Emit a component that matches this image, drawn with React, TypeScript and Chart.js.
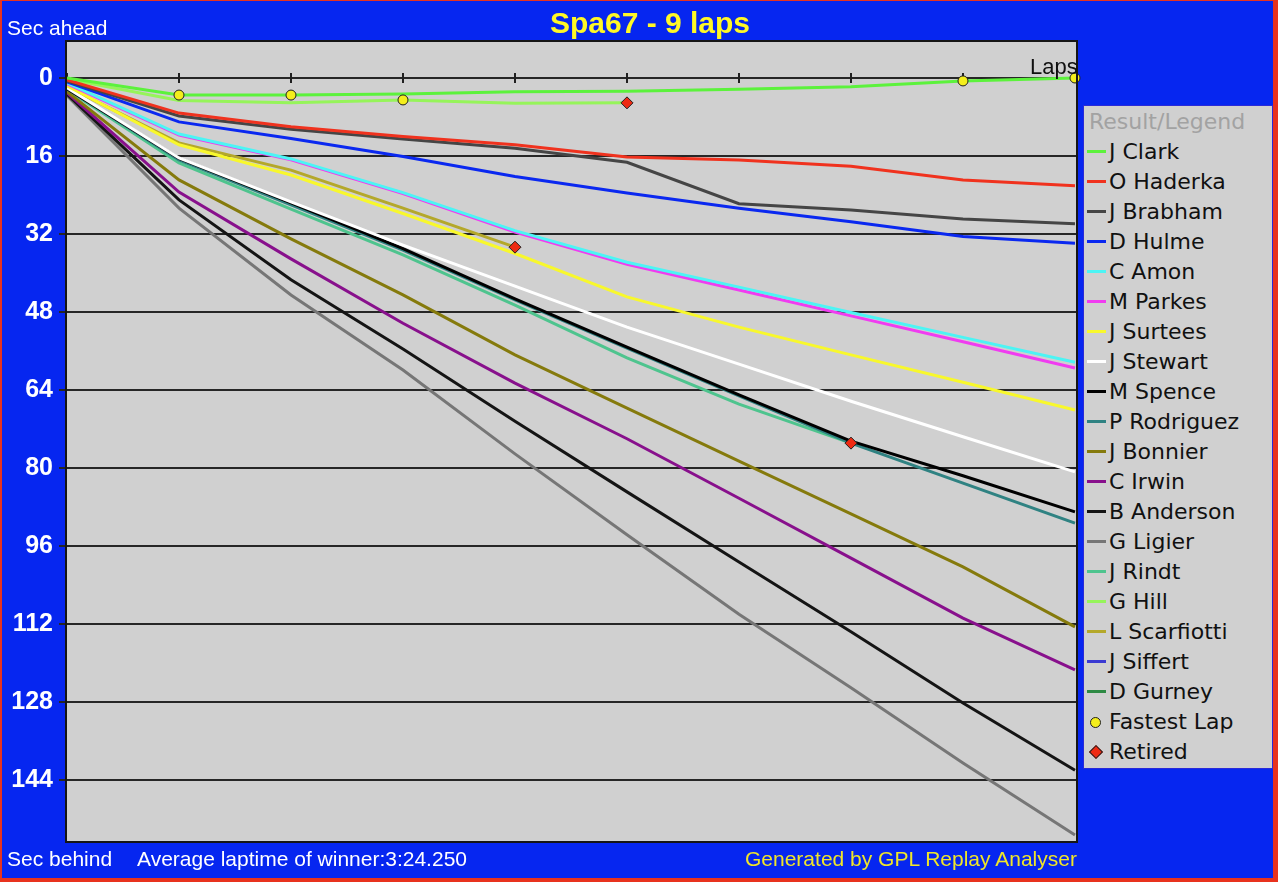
import React, { useEffect, useRef } from "react";
import { Chart, registerables } from "chart.js";

Chart.register(...registerables);

// ---------- data ----------
const laps = [0, 1, 2, 3, 4, 5, 6, 7, 8, 9];
const yTickValues = [0, 16, 32, 48, 64, 80, 96, 112, 128, 144];

const drivers = [
  "J Clark", "O Haderka", "J Brabham", "D Hulme", "C Amon", "M Parkes",
  "J Surtees", "J Stewart", "M Spence", "P Rodriguez", "J Bonnier", "C Irwin",
  "B Anderson", "G Ligier", "J Rindt", "G Hill", "L Scarfiotti", "J Siffert", "D Gurney",
];
const driverColors = [
  "#5cf23c", "#f0321e", "#454545", "#0a28f0", "#4cf4f4", "#f03cf0",
  "#f8f82c", "#ffffff", "#000000", "#2f8282", "#857a0c", "#88108c",
  "#141414", "#767676", "#4ec48e", "#96f45a", "#b4a82a", "#3a3ad2", "#2e8a44",
];

// seconds behind the winner's average pace, per lap
const clark = [0, 3.5, 3.5, 3.3, 2.8, 2.7, 2.3, 1.8, 0.6, 0];
const haderka = [0.4, 7.2, 10.0, 12.0, 13.7, 16.2, 16.8, 18.1, 20.9, 22.1];
const brabham = [0.6, 7.8, 10.5, 12.5, 14.4, 17.3, 25.8, 27.1, 28.9, 29.9];
const hulme = [0.8, 9.0, 12.4, 16.1, 20.2, 23.6, 26.7, 29.5, 32.5, 33.9];
const amon = [1.0, 11.5, 16.6, 23.5, 31.3, 37.8, 42.9, 48.1, 53.2, 58.3];
const parkes = [1.2, 11.7, 16.8, 23.7, 31.6, 38.2, 43.5, 48.8, 54.1, 59.5];
const surtees = [1.6, 13.7, 19.9, 27.8, 36.0, 44.9, 51.1, 56.8, 62.4, 68.1];
const stewart = [2.0, 16.4, 25.4, 34.3, 42.7, 51.1, 58.7, 66.3, 73.6, 80.8];
const spence = [2.2, 16.5, 25.6, 35.0, 45.3, 55.2, 65.0, 74.5, 81.6, 89.0];
const rodriguez = [2.2, 16.8, 26.0, 35.3, 45.5, 55.4, 65.2, 74.9, 83.1, 91.3];
const bonnier = [2.8, 20.9, 33.0, 44.5, 56.8, 67.7, 78.6, 89.4, 100.3, 112.6];
const irwin = [3.0, 23.4, 37.1, 50.3, 62.6, 74.0, 86.2, 98.5, 110.8, 121.4];
const anderson = [3.3, 25.0, 41.4, 55.6, 70.4, 84.9, 99.3, 113.6, 128.2, 142.0];
const ligier = [3.6, 26.7, 44.5, 59.9, 77.1, 93.7, 110.0, 125.1, 140.5, 155.3];
const rindt = [2.4, 17.4, 26.9, 36.3, 46.6, 57.4, 66.9, 74.9];
const hill = [0.2, 4.6, 5.1, 4.5, 5.2, 5.1];
const scarfiotti = [1.8, 13.3, 18.9, 26.7, 34.7];
const siffert: number[] = [];
const gurney: number[] = [];

const series = [
  clark, haderka, brabham, hulme, amon, parkes, surtees, stewart, spence,
  rodriguez, bonnier, irwin, anderson, ligier, rindt, hill, scarfiotti, siffert, gurney,
];

const fastestLapLaps = [1, 2, 3, 8, 9];
const fastestLapSecs = [3.5, 3.5, 4.5, 0.6, 0];
const retiredLaps = [4, 5, 7];
const retiredSecs = [34.7, 5.1, 74.9];

const yMin = -7.795;
const yMax = 156.72;
const xMax = 9.018;

const BLUE = "#0626f0";
const PLOT_GRAY = "#d0d0d0";

export default function App() {
  const canvasRef = useRef<HTMLCanvasElement | null>(null);

  useEffect(() => {
    document.body.style.margin = "0";
    const canvas = canvasRef.current;
    if (!canvas) return;

    const bgPlugin = {
      id: "plotBg",
      beforeDraw(chart: any) {
        const { ctx, chartArea } = chart;
        ctx.save();
        ctx.fillStyle = PLOT_GRAY;
        ctx.fillRect(chartArea.left, chartArea.top, chartArea.right - chartArea.left, chartArea.bottom - chartArea.top);
        ctx.restore();
      },
      beforeDatasetsDraw(chart: any) {
        const { ctx } = chart;
        const xs = chart.scales.x;
        const ys = chart.scales.y;
        const y0 = Math.round(ys.getPixelForValue(0));
        ctx.save();
        ctx.strokeStyle = "#202020";
        ctx.lineWidth = 2;
        laps.forEach((l) => {
          const x = Math.round(xs.getPixelForValue(l));
          ctx.beginPath();
          ctx.moveTo(x, y0 - 5);
          ctx.lineTo(x, y0 + 5);
          ctx.stroke();
        });
        ctx.restore();
      },
      afterDraw(chart: any) {
        const { ctx, chartArea } = chart;
        ctx.save();
        ctx.strokeStyle = "#151515";
        ctx.lineWidth = 2;
        ctx.strokeRect(chartArea.left - 1, chartArea.top + 1, chartArea.right - chartArea.left + 1, chartArea.bottom - chartArea.top - 1);
        ctx.restore();
      },
    };

    const driverSets = drivers.map((name, i) => ({
      type: "line" as const,
      label: name,
      data: series[i].map((v, k) => ({ x: laps[k], y: v })),
      borderColor: driverColors[i],
      backgroundColor: driverColors[i],
      borderWidth: 3,
      pointRadius: 0,
      tension: 0,
      fill: false,
    }));

    const chart = new Chart(canvas, {
      type: "line",
      data: {
        datasets: [
          {
            type: "line",
            label: "Fastest Lap",
            data: fastestLapLaps.map((l, k) => ({ x: l, y: fastestLapSecs[k] })),
            showLine: false,
            pointStyle: "circle",
            pointRadius: 5,
            pointBackgroundColor: "#f4ee1c",
            pointBorderColor: "#202020",
            pointBorderWidth: 1,
            clip: false,
          } as any,
          {
            type: "line",
            label: "Retired",
            data: retiredLaps.map((l, k) => ({ x: l, y: retiredSecs[k] })),
            showLine: false,
            pointStyle: "rectRot",
            pointRadius: 6,
            pointBackgroundColor: "#ee2a12",
            pointBorderColor: "#202020",
            pointBorderWidth: 1,
            clip: false,
          } as any,
          ...driverSets,
        ],
      },
      options: {
        responsive: false,
        animation: false,
        devicePixelRatio: 1,
        events: [],
        layout: { padding: { left: 0, top: 40, right: 201, bottom: 40 } },
        plugins: {
          legend: { display: false },
          tooltip: { enabled: false },
          title: { display: false },
        },
        scales: {
          x: {
            type: "linear",
            min: 0,
            max: xMax,
            display: false,
          },
          y: {
            type: "linear",
            reverse: true,
            min: yMin,
            max: yMax,
            afterBuildTicks: (s: any) => {
              s.ticks = yTickValues.map((v) => ({ value: v }));
            },
            afterFit: (s: any) => {
              s.width = 67;
            },
            border: { display: false },
            grid: {
              color: "#262626",
              lineWidth: 2,
              drawTicks: true,
              tickLength: 8,
              tickColor: "#262626",
            },
            ticks: {
              color: "#ffffff",
              padding: 6,
              font: { family: "'Liberation Sans', Arial, sans-serif", size: 25, weight: "bold" },
              callback: (v: any) => String(v),
            },
          },
        },
      } as any,
      plugins: [bgPlugin],
    });

    return () => chart.destroy();
  }, []);

  const txt = (extra: React.CSSProperties): React.CSSProperties => ({
    position: "absolute",
    whiteSpace: "nowrap",
    fontFamily: "'Liberation Sans', Arial, sans-serif",
    lineHeight: "normal",
    ...extra,
  });

  return (
    <div style={{ position: "relative", width: 1278, height: 882, background: "#e8321e", overflow: "hidden" }}>
      <div style={{ position: "absolute", left: 2, top: 1, width: 1271, height: 877, background: BLUE }} />
      <canvas
        ref={canvasRef}
        width={1278}
        height={882}
        style={{ position: "absolute", left: 0, top: 0, width: 1278, height: 882 }}
      />
      <div style={txt({ left: 0, width: 1300, top: 6, textAlign: "center", fontSize: 30, fontWeight: "bold", color: "#fff826" })}>
        Spa67 - 9 laps
      </div>
      <div style={txt({ left: 7, top: 16, fontSize: 21, color: "#ffffff" })}>Sec ahead</div>
      <div style={txt({ left: 1030, top: 54, fontSize: 22, color: "#101010" })}>Laps</div>
      <div style={txt({ left: 7, top: 847, fontSize: 21, color: "#ffffff" })}>Sec behind</div>
      <div style={txt({ left: 137, top: 847, fontSize: 21, color: "#ffffff" })}>Average laptime of winner:3:24.250</div>
      <div style={txt({ left: 745, top: 847, fontSize: 21, color: "#f0e628" })}>Generated by GPL Replay Analyser</div>

      <div
        style={{
          position: "absolute",
          left: 1083,
          top: 105,
          width: 188,
          height: 661,
          background: PLOT_GRAY,
          border: "1px solid #2a2ad8",
          fontFamily: "'DejaVu Sans', sans-serif",
          fontSize: 22,
          paddingTop: 1,
        }}
      >
        <div style={{ position: "relative", height: 30, lineHeight: "30px", color: "#a2a2a2", paddingLeft: 5 }}>
          Result/Legend
        </div>
        {drivers.map((name, i) => (
          <div key={name} style={{ position: "relative", height: 30, lineHeight: "30px", color: "#111" }}>
            <div style={{ position: "absolute", left: 3, top: 13, width: 19, height: 3, background: driverColors[i] }} />
            <span style={{ position: "absolute", left: 25, top: 0, whiteSpace: "nowrap" }}>{name}</span>
          </div>
        ))}
        <div style={{ position: "relative", height: 30, lineHeight: "30px", color: "#111" }}>
          <div
            style={{
              position: "absolute", left: 6, top: 10, width: 9, height: 9, borderRadius: "50%",
              background: "#f4ee1c", border: "1px solid #202020",
            }}
          />
          <span style={{ position: "absolute", left: 25, top: 0, whiteSpace: "nowrap" }}>Fastest Lap</span>
        </div>
        <div style={{ position: "relative", height: 30, lineHeight: "30px", color: "#111" }}>
          <div
            style={{
              position: "absolute", left: 7, top: 10, width: 8, height: 8, transform: "rotate(45deg)",
              background: "#ee2a12", border: "1px solid #202020",
            }}
          />
          <span style={{ position: "absolute", left: 25, top: 0, whiteSpace: "nowrap" }}>Retired</span>
        </div>
      </div>
    </div>
  );
}
